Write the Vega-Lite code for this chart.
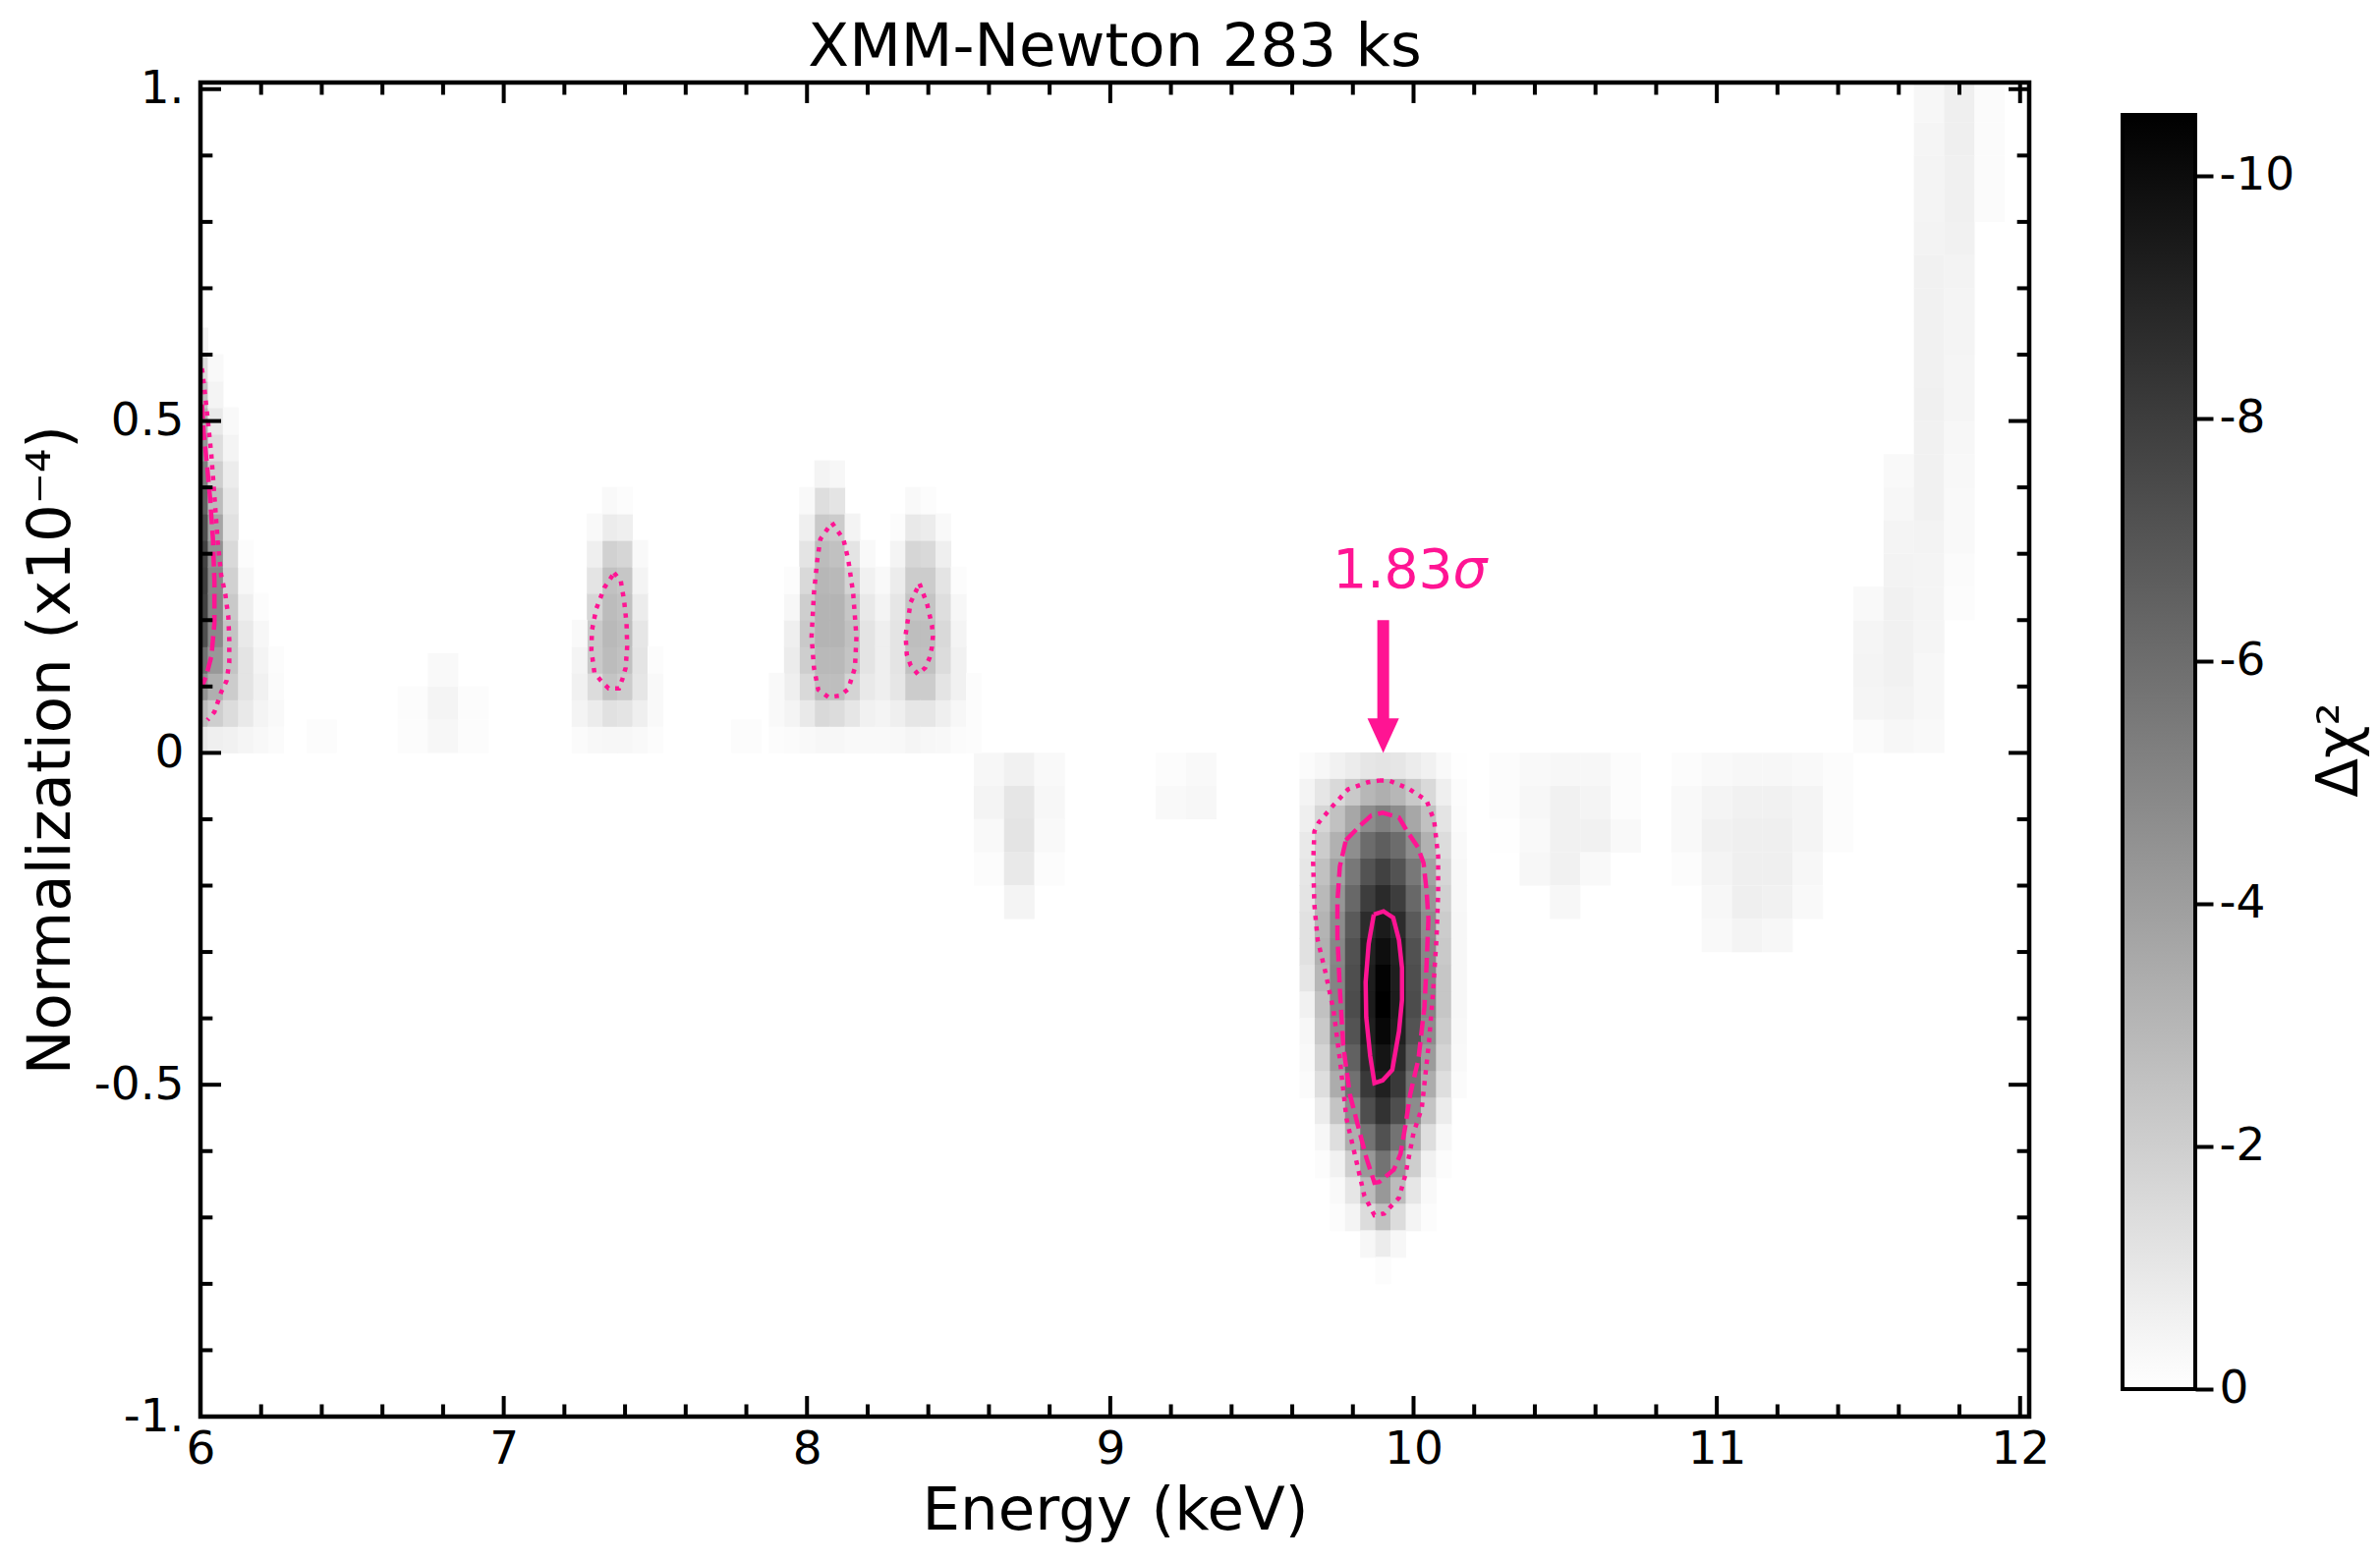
{
"$schema":"https://vega.github.io/schema/vega-lite/v6.json",
"background":"white",
"padding":{"left":21,"top":17,"right":10,"bottom":10},
"spacing":72,
"config":{"font":"DejaVu Sans","view":{"stroke":null},"title":{"fontSize":61,"fontWeight":"normal","color":"black","offset":-13},"axis":{"grid":false,"domain":false,"labelFontSize":47,"titleFontSize":61,"titleFontWeight":"normal","labelColor":"black","titleColor":"black"}},
"datasets":{
"xmaj":[{"e":6},{"e":7},{"e":8},{"e":9},{"e":10},{"e":11},{"e":12}],
"xmin":[{"e":6.2},{"e":6.4},{"e":6.6},{"e":6.8},{"e":7.2},{"e":7.4},{"e":7.6},{"e":7.8},{"e":8.2},{"e":8.4},{"e":8.6},{"e":8.8},{"e":9.2},{"e":9.4},{"e":9.6},{"e":9.8},{"e":10.2},{"e":10.4},{"e":10.6},{"e":10.8},{"e":11.2},{"e":11.4},{"e":11.6},{"e":11.8}],
"ymaj":[{"n":-1},{"n":-0.5},{"n":0},{"n":0.5},{"n":1}],
"ymin":[{"n":-0.9},{"n":-0.8},{"n":-0.7},{"n":-0.6},{"n":-0.4},{"n":-0.3},{"n":-0.2},{"n":-0.1},{"n":0.1},{"n":0.2},{"n":0.3},{"n":0.4},{"n":0.6},{"n":0.7},{"n":0.8},{"n":0.9}],
"coarse":[
{"e":6.4,"n":0.025,"d":0.1},{"e":6.7,"n":0.025,"d":0.1},{"e":6.8,"n":0.025,"d":0.3},{"e":6.9,"n":0.025,"d":0.1},{"e":6.7,"n":0.075,"d":0.1},{"e":6.8,"n":0.075,"d":0.4},{"e":6.9,"n":0.075,"d":0.1},{"e":6.8,"n":0.125,"d":0.2},{"e":7.8,"n":0.025,"d":0.1},
{"e":8.6,"n":-0.025,"d":0.3},{"e":8.7,"n":-0.025,"d":0.5},{"e":8.8,"n":-0.025,"d":0.2},{"e":8.6,"n":-0.075,"d":0.4},{"e":8.7,"n":-0.075,"d":0.9},{"e":8.8,"n":-0.075,"d":0.3},{"e":8.6,"n":-0.125,"d":0.2},{"e":8.7,"n":-0.125,"d":1},{"e":8.8,"n":-0.125,"d":0.2},{"e":8.6,"n":-0.175,"d":0.1},{"e":8.7,"n":-0.175,"d":0.8},{"e":8.8,"n":-0.175,"d":0.1},{"e":8.7,"n":-0.225,"d":0.4},
{"e":9.2,"n":-0.025,"d":0.1},{"e":9.3,"n":-0.025,"d":0.2},{"e":9.2,"n":-0.075,"d":0.2},{"e":9.3,"n":-0.075,"d":0.3},
{"e":10.3,"n":-0.025,"d":0.1},{"e":10.4,"n":-0.025,"d":0.2},{"e":10.5,"n":-0.025,"d":0.3},{"e":10.6,"n":-0.025,"d":0.3},{"e":10.7,"n":-0.025,"d":0.1},{"e":10.3,"n":-0.075,"d":0.1},{"e":10.4,"n":-0.075,"d":0.3},{"e":10.5,"n":-0.075,"d":0.5},{"e":10.6,"n":-0.075,"d":0.4},{"e":10.7,"n":-0.075,"d":0.1},{"e":10.3,"n":-0.125,"d":0.05},{"e":10.4,"n":-0.125,"d":0.2},{"e":10.5,"n":-0.125,"d":0.5},{"e":10.6,"n":-0.125,"d":0.5},{"e":10.7,"n":-0.125,"d":0.2},{"e":10.4,"n":-0.175,"d":0.3},{"e":10.5,"n":-0.175,"d":0.5},{"e":10.6,"n":-0.175,"d":0.2},{"e":10.5,"n":-0.225,"d":0.3},
{"e":10.9,"n":-0.025,"d":0.1},{"e":11,"n":-0.025,"d":0.2},{"e":11.1,"n":-0.025,"d":0.3},{"e":11.2,"n":-0.025,"d":0.3},{"e":11.3,"n":-0.025,"d":0.2},{"e":11.4,"n":-0.025,"d":0.1},{"e":10.9,"n":-0.075,"d":0.2},{"e":11,"n":-0.075,"d":0.4},{"e":11.1,"n":-0.075,"d":0.5},{"e":11.2,"n":-0.075,"d":0.5},{"e":11.3,"n":-0.075,"d":0.4},{"e":11.4,"n":-0.075,"d":0.1},{"e":10.9,"n":-0.125,"d":0.2},{"e":11,"n":-0.125,"d":0.5},{"e":11.1,"n":-0.125,"d":0.6},{"e":11.2,"n":-0.125,"d":0.6},{"e":11.3,"n":-0.125,"d":0.4},{"e":11.4,"n":-0.125,"d":0.1},{"e":10.9,"n":-0.175,"d":0.1},{"e":11,"n":-0.175,"d":0.4},{"e":11.1,"n":-0.175,"d":0.6},{"e":11.2,"n":-0.175,"d":0.6},{"e":11.3,"n":-0.175,"d":0.3},{"e":11,"n":-0.225,"d":0.3},{"e":11.1,"n":-0.225,"d":0.6},{"e":11.2,"n":-0.225,"d":0.5},{"e":11.3,"n":-0.225,"d":0.2},{"e":11,"n":-0.275,"d":0.2},{"e":11.1,"n":-0.275,"d":0.4},{"e":11.2,"n":-0.275,"d":0.3},
{"e":11.5,"n":0.025,"d":0.15},{"e":11.6,"n":0.025,"d":0.3},{"e":11.7,"n":0.025,"d":0.2},{"e":11.5,"n":0.075,"d":0.35},{"e":11.6,"n":0.075,"d":0.45},{"e":11.7,"n":0.075,"d":0.3},{"e":11.5,"n":0.125,"d":0.4},{"e":11.6,"n":0.125,"d":0.5},{"e":11.7,"n":0.125,"d":0.3},{"e":11.5,"n":0.175,"d":0.35},{"e":11.6,"n":0.175,"d":0.5},{"e":11.7,"n":0.175,"d":0.35},{"e":11.5,"n":0.225,"d":0.2},{"e":11.6,"n":0.225,"d":0.5},{"e":11.7,"n":0.225,"d":0.4},{"e":11.8,"n":0.225,"d":0.1},{"e":11.6,"n":0.275,"d":0.45},{"e":11.7,"n":0.275,"d":0.4},{"e":11.8,"n":0.275,"d":0.15},{"e":11.6,"n":0.325,"d":0.4},{"e":11.7,"n":0.325,"d":0.45},{"e":11.8,"n":0.325,"d":0.2},{"e":11.6,"n":0.375,"d":0.3},{"e":11.7,"n":0.375,"d":0.5},{"e":11.8,"n":0.375,"d":0.2},{"e":11.6,"n":0.425,"d":0.2},{"e":11.7,"n":0.425,"d":0.5},{"e":11.8,"n":0.425,"d":0.25},{"e":11.7,"n":0.475,"d":0.5},{"e":11.8,"n":0.475,"d":0.3},{"e":11.7,"n":0.525,"d":0.55},{"e":11.8,"n":0.525,"d":0.35},{"e":11.7,"n":0.575,"d":0.5},{"e":11.8,"n":0.575,"d":0.35},{"e":11.7,"n":0.625,"d":0.5},{"e":11.8,"n":0.625,"d":0.4},{"e":11.7,"n":0.675,"d":0.5},{"e":11.8,"n":0.675,"d":0.4},{"e":11.7,"n":0.725,"d":0.5},{"e":11.8,"n":0.725,"d":0.45},{"e":11.7,"n":0.775,"d":0.45},{"e":11.8,"n":0.775,"d":0.5},{"e":11.7,"n":0.825,"d":0.4},{"e":11.8,"n":0.825,"d":0.55},{"e":11.9,"n":0.825,"d":0.15},{"e":11.7,"n":0.875,"d":0.4},{"e":11.8,"n":0.875,"d":0.55},{"e":11.9,"n":0.875,"d":0.15},{"e":11.7,"n":0.925,"d":0.35},{"e":11.8,"n":0.925,"d":0.6},{"e":11.9,"n":0.925,"d":0.15},{"e":11.7,"n":0.975,"d":0.3},{"e":11.8,"n":0.975,"d":0.6},{"e":11.9,"n":0.975,"d":0.15},{"e":11.7,"n":1.025,"d":0.3},{"e":11.8,"n":1.025,"d":0.6},{"e":11.9,"n":1.025,"d":0.15}
],
"fine":[
{"e":9.65,"n":-0.02,"d":0.15},{"e":9.7,"n":-0.02,"d":0.3},{"e":9.75,"n":-0.02,"d":0.5},{"e":9.8,"n":-0.02,"d":0.7},{"e":9.85,"n":-0.02,"d":0.9},{"e":9.9,"n":-0.02,"d":1},{"e":9.95,"n":-0.02,"d":0.9},{"e":10,"n":-0.02,"d":0.7},{"e":10.05,"n":-0.02,"d":0.5},{"e":10.1,"n":-0.02,"d":0.2},{"e":10.15,"n":-0.02,"d":0.05},
{"e":9.65,"n":-0.06,"d":0.4},{"e":9.7,"n":-0.06,"d":0.9},{"e":9.75,"n":-0.06,"d":1.4},{"e":9.8,"n":-0.06,"d":2},{"e":9.85,"n":-0.06,"d":2.7},{"e":9.9,"n":-0.06,"d":3},{"e":9.95,"n":-0.06,"d":2.7},{"e":10,"n":-0.06,"d":2},{"e":10.05,"n":-0.06,"d":1.4},{"e":10.1,"n":-0.06,"d":0.6},{"e":10.15,"n":-0.06,"d":0.1},
{"e":9.65,"n":-0.1,"d":0.6},{"e":9.7,"n":-0.1,"d":1.5},{"e":9.75,"n":-0.1,"d":2.3},{"e":9.8,"n":-0.1,"d":3.3},{"e":9.85,"n":-0.1,"d":4.4},{"e":9.9,"n":-0.1,"d":4.9},{"e":9.95,"n":-0.1,"d":4.4},{"e":10,"n":-0.1,"d":3.3},{"e":10.05,"n":-0.1,"d":2.3},{"e":10.1,"n":-0.1,"d":1},{"e":10.15,"n":-0.1,"d":0.15},
{"e":9.65,"n":-0.14,"d":0.8},{"e":9.7,"n":-0.14,"d":1.9},{"e":9.75,"n":-0.14,"d":2.9},{"e":9.8,"n":-0.14,"d":4.3},{"e":9.85,"n":-0.14,"d":5.7},{"e":9.9,"n":-0.14,"d":6.3},{"e":9.95,"n":-0.14,"d":5.7},{"e":10,"n":-0.14,"d":4.3},{"e":10.05,"n":-0.14,"d":2.9},{"e":10.1,"n":-0.14,"d":1.3},{"e":10.15,"n":-0.14,"d":0.2},
{"e":9.65,"n":-0.18,"d":0.9},{"e":9.7,"n":-0.18,"d":2.3},{"e":9.75,"n":-0.18,"d":3.5},{"e":9.8,"n":-0.18,"d":5.2},{"e":9.85,"n":-0.18,"d":6.8},{"e":9.9,"n":-0.18,"d":7.6},{"e":9.95,"n":-0.18,"d":6.8},{"e":10,"n":-0.18,"d":5.2},{"e":10.05,"n":-0.18,"d":3.5},{"e":10.1,"n":-0.18,"d":1.5},{"e":10.15,"n":-0.18,"d":0.25},
{"e":9.65,"n":-0.22,"d":1},{"e":9.7,"n":-0.22,"d":2.6},{"e":9.75,"n":-0.22,"d":4},{"e":9.8,"n":-0.22,"d":5.9},{"e":9.85,"n":-0.22,"d":7.8},{"e":9.9,"n":-0.22,"d":8.7},{"e":9.95,"n":-0.22,"d":7.8},{"e":10,"n":-0.22,"d":5.9},{"e":10.05,"n":-0.22,"d":4},{"e":10.1,"n":-0.22,"d":1.7},{"e":10.15,"n":-0.22,"d":0.25},
{"e":9.65,"n":-0.26,"d":1.1},{"e":9.7,"n":-0.26,"d":2.8},{"e":9.75,"n":-0.26,"d":4.4},{"e":9.8,"n":-0.26,"d":6.5},{"e":9.85,"n":-0.26,"d":8.6},{"e":9.9,"n":-0.26,"d":9.5},{"e":9.95,"n":-0.26,"d":8.6},{"e":10,"n":-0.26,"d":6.5},{"e":10.05,"n":-0.26,"d":4.4},{"e":10.1,"n":-0.26,"d":1.9},{"e":10.15,"n":-0.26,"d":0.3},
{"e":9.65,"n":-0.3,"d":1.1},{"e":9.7,"n":-0.3,"d":2.9},{"e":9.75,"n":-0.3,"d":4.6},{"e":9.8,"n":-0.3,"d":6.9},{"e":9.85,"n":-0.3,"d":9.1},{"e":9.9,"n":-0.3,"d":10.1},{"e":9.95,"n":-0.3,"d":9.1},{"e":10,"n":-0.3,"d":6.9},{"e":10.05,"n":-0.3,"d":4.6},{"e":10.1,"n":-0.3,"d":2},{"e":10.15,"n":-0.3,"d":0.3},
{"e":9.65,"n":-0.34,"d":0.9},{"e":9.7,"n":-0.34,"d":2.7},{"e":9.75,"n":-0.34,"d":4.7},{"e":9.8,"n":-0.34,"d":7},{"e":9.85,"n":-0.34,"d":9.3},{"e":9.9,"n":-0.34,"d":10.4},{"e":9.95,"n":-0.34,"d":9.3},{"e":10,"n":-0.34,"d":7},{"e":10.05,"n":-0.34,"d":4.7},{"e":10.1,"n":-0.34,"d":2.1},{"e":10.15,"n":-0.34,"d":0.3},
{"e":9.65,"n":-0.38,"d":0.5},{"e":9.7,"n":-0.38,"d":2.3},{"e":9.75,"n":-0.38,"d":4.7},{"e":9.8,"n":-0.38,"d":7.1},{"e":9.85,"n":-0.38,"d":9.4},{"e":9.9,"n":-0.38,"d":10.5},{"e":9.95,"n":-0.38,"d":9.4},{"e":10,"n":-0.38,"d":7.1},{"e":10.05,"n":-0.38,"d":4.7},{"e":10.1,"n":-0.38,"d":2.1},{"e":10.15,"n":-0.38,"d":0.3},
{"e":9.65,"n":-0.42,"d":0.3},{"e":9.7,"n":-0.42,"d":2},{"e":9.75,"n":-0.42,"d":4.4},{"e":9.8,"n":-0.42,"d":6.8},{"e":9.85,"n":-0.42,"d":9.2},{"e":9.9,"n":-0.42,"d":10.3},{"e":9.95,"n":-0.42,"d":9.2},{"e":10,"n":-0.42,"d":6.8},{"e":10.05,"n":-0.42,"d":4.4},{"e":10.1,"n":-0.42,"d":1.9},{"e":10.15,"n":-0.42,"d":0.25},
{"e":9.65,"n":-0.46,"d":0.2},{"e":9.7,"n":-0.46,"d":1.6},{"e":9.75,"n":-0.46,"d":3.8},{"e":9.8,"n":-0.46,"d":6.2},{"e":9.85,"n":-0.46,"d":8.6},{"e":9.9,"n":-0.46,"d":9.8},{"e":9.95,"n":-0.46,"d":8.6},{"e":10,"n":-0.46,"d":6.2},{"e":10.05,"n":-0.46,"d":3.8},{"e":10.1,"n":-0.46,"d":1.6},{"e":10.15,"n":-0.46,"d":0.2},
{"e":9.65,"n":-0.5,"d":0.15},{"e":9.7,"n":-0.5,"d":1.2},{"e":9.75,"n":-0.5,"d":3.1},{"e":9.8,"n":-0.5,"d":5.5},{"e":9.85,"n":-0.5,"d":8},{"e":9.9,"n":-0.5,"d":9.2},{"e":9.95,"n":-0.5,"d":8},{"e":10,"n":-0.5,"d":5.5},{"e":10.05,"n":-0.5,"d":3.1},{"e":10.1,"n":-0.5,"d":1.2},{"e":10.15,"n":-0.5,"d":0.15},
{"e":9.7,"n":-0.54,"d":0.7},{"e":9.75,"n":-0.54,"d":2.2},{"e":9.8,"n":-0.54,"d":4.4},{"e":9.85,"n":-0.54,"d":7},{"e":9.9,"n":-0.54,"d":8.3},{"e":9.95,"n":-0.54,"d":7},{"e":10,"n":-0.54,"d":4.4},{"e":10.05,"n":-0.54,"d":2.2},{"e":10.1,"n":-0.54,"d":0.7},
{"e":9.7,"n":-0.58,"d":0.3},{"e":9.75,"n":-0.58,"d":1.2},{"e":9.8,"n":-0.58,"d":3},{"e":9.85,"n":-0.58,"d":5.4},{"e":9.9,"n":-0.58,"d":6.9},{"e":9.95,"n":-0.58,"d":5.4},{"e":10,"n":-0.58,"d":3},{"e":10.05,"n":-0.58,"d":1.2},{"e":10.1,"n":-0.58,"d":0.3},
{"e":9.7,"n":-0.62,"d":0.1},{"e":9.75,"n":-0.62,"d":0.5},{"e":9.8,"n":-0.62,"d":1.8},{"e":9.85,"n":-0.62,"d":3.9},{"e":9.9,"n":-0.62,"d":5.4},{"e":9.95,"n":-0.62,"d":3.9},{"e":10,"n":-0.62,"d":1.8},{"e":10.05,"n":-0.62,"d":0.5},{"e":10.1,"n":-0.62,"d":0.1},
{"e":9.75,"n":-0.66,"d":0.2},{"e":9.8,"n":-0.66,"d":0.9},{"e":9.85,"n":-0.66,"d":2.5},{"e":9.9,"n":-0.66,"d":3.9},{"e":9.95,"n":-0.66,"d":2.5},{"e":10,"n":-0.66,"d":0.9},{"e":10.05,"n":-0.66,"d":0.2},
{"e":9.75,"n":-0.7,"d":0.1},{"e":9.8,"n":-0.7,"d":0.4},{"e":9.85,"n":-0.7,"d":1.3},{"e":9.9,"n":-0.7,"d":2.3},{"e":9.95,"n":-0.7,"d":1.3},{"e":10,"n":-0.7,"d":0.4},{"e":10.05,"n":-0.7,"d":0.1},
{"e":9.85,"n":-0.74,"d":0.3},{"e":9.9,"n":-0.74,"d":0.7},{"e":9.95,"n":-0.74,"d":0.3},{"e":9.9,"n":-0.78,"d":0.1},
{"e":6,"n":0.02,"d":0.8},{"e":6,"n":0.06,"d":2.5},{"e":6,"n":0.1,"d":4.2},{"e":6,"n":0.14,"d":5.6},{"e":6,"n":0.18,"d":7},{"e":6,"n":0.22,"d":7.6},{"e":6,"n":0.26,"d":7.8},{"e":6,"n":0.3,"d":7.6},{"e":6,"n":0.34,"d":7},{"e":6,"n":0.38,"d":6.2},{"e":6,"n":0.42,"d":5},{"e":6,"n":0.46,"d":4},{"e":6,"n":0.5,"d":3},{"e":6,"n":0.54,"d":2.3},{"e":6,"n":0.58,"d":1.3},{"e":6,"n":0.62,"d":0.4},
{"e":6.05,"n":0.02,"d":0.6},{"e":6.05,"n":0.06,"d":1.8},{"e":6.05,"n":0.1,"d":3},{"e":6.05,"n":0.14,"d":3.9},{"e":6.05,"n":0.18,"d":4.5},{"e":6.05,"n":0.22,"d":4.6},{"e":6.05,"n":0.26,"d":4.5},{"e":6.05,"n":0.3,"d":4.2},{"e":6.05,"n":0.34,"d":3.4},{"e":6.05,"n":0.38,"d":2.5},{"e":6.05,"n":0.42,"d":1.8},{"e":6.05,"n":0.46,"d":1.2},{"e":6.05,"n":0.5,"d":0.8},{"e":6.05,"n":0.54,"d":0.4},{"e":6.05,"n":0.58,"d":0.2},
{"e":6.1,"n":0.02,"d":0.5},{"e":6.1,"n":0.06,"d":1.3},{"e":6.1,"n":0.1,"d":1.9},{"e":6.1,"n":0.14,"d":2.2},{"e":6.1,"n":0.18,"d":2.2},{"e":6.1,"n":0.22,"d":2},{"e":6.1,"n":0.26,"d":1.7},{"e":6.1,"n":0.3,"d":1.4},{"e":6.1,"n":0.34,"d":1.1},{"e":6.1,"n":0.38,"d":0.9},{"e":6.1,"n":0.42,"d":0.7},{"e":6.1,"n":0.46,"d":0.4},{"e":6.1,"n":0.5,"d":0.2},
{"e":6.15,"n":0.02,"d":0.35},{"e":6.15,"n":0.06,"d":0.8},{"e":6.15,"n":0.1,"d":1},{"e":6.15,"n":0.14,"d":1},{"e":6.15,"n":0.18,"d":0.8},{"e":6.15,"n":0.22,"d":0.6},{"e":6.15,"n":0.26,"d":0.3},{"e":6.15,"n":0.3,"d":0.1},
{"e":6.2,"n":0.02,"d":0.25},{"e":6.2,"n":0.06,"d":0.4},{"e":6.2,"n":0.1,"d":0.5},{"e":6.2,"n":0.14,"d":0.4},{"e":6.2,"n":0.18,"d":0.3},{"e":6.2,"n":0.22,"d":0.1},{"e":6.25,"n":0.02,"d":0.15},{"e":6.25,"n":0.06,"d":0.2},{"e":6.25,"n":0.1,"d":0.15},{"e":6.25,"n":0.14,"d":0.1},
{"e":7.35,"n":0.02,"d":0.3},{"e":7.35,"n":0.06,"d":1.1},{"e":7.35,"n":0.1,"d":2.2},{"e":7.35,"n":0.14,"d":2.5},{"e":7.35,"n":0.18,"d":2.6},{"e":7.35,"n":0.22,"d":2.5},{"e":7.35,"n":0.26,"d":2.3},{"e":7.35,"n":0.3,"d":1.7},{"e":7.35,"n":0.34,"d":0.7},{"e":7.35,"n":0.38,"d":0.2},
{"e":7.4,"n":0.02,"d":0.3},{"e":7.4,"n":0.06,"d":1},{"e":7.4,"n":0.1,"d":1.9},{"e":7.4,"n":0.14,"d":2.3},{"e":7.4,"n":0.18,"d":2.4},{"e":7.4,"n":0.22,"d":2.3},{"e":7.4,"n":0.26,"d":2.1},{"e":7.4,"n":0.3,"d":1.5},{"e":7.4,"n":0.34,"d":0.6},{"e":7.4,"n":0.38,"d":0.1},
{"e":7.3,"n":0.02,"d":0.25},{"e":7.3,"n":0.06,"d":0.7},{"e":7.3,"n":0.1,"d":1.3},{"e":7.3,"n":0.14,"d":2},{"e":7.3,"n":0.18,"d":2},{"e":7.3,"n":0.22,"d":1.5},{"e":7.3,"n":0.26,"d":1},{"e":7.3,"n":0.3,"d":0.6},{"e":7.3,"n":0.34,"d":0.2},
{"e":7.45,"n":0.02,"d":0.2},{"e":7.45,"n":0.06,"d":0.6},{"e":7.45,"n":0.1,"d":0.9},{"e":7.45,"n":0.14,"d":1},{"e":7.45,"n":0.18,"d":0.9},{"e":7.45,"n":0.22,"d":0.7},{"e":7.45,"n":0.26,"d":0.4},{"e":7.45,"n":0.3,"d":0.2},
{"e":7.25,"n":0.02,"d":0.15},{"e":7.25,"n":0.06,"d":0.4},{"e":7.25,"n":0.1,"d":0.5},{"e":7.25,"n":0.14,"d":0.4},{"e":7.25,"n":0.18,"d":0.2},{"e":7.5,"n":0.02,"d":0.1},{"e":7.5,"n":0.06,"d":0.2},{"e":7.5,"n":0.1,"d":0.2},{"e":7.5,"n":0.14,"d":0.1},
{"e":8.05,"n":0.02,"d":0.3},{"e":8.05,"n":0.06,"d":1.4},{"e":8.05,"n":0.1,"d":2.4},{"e":8.05,"n":0.14,"d":2.6},{"e":8.05,"n":0.18,"d":2.8},{"e":8.05,"n":0.22,"d":2.8},{"e":8.05,"n":0.26,"d":2.7},{"e":8.05,"n":0.3,"d":2.5},{"e":8.05,"n":0.34,"d":2},{"e":8.05,"n":0.38,"d":1.2},{"e":8.05,"n":0.42,"d":0.4},
{"e":8.1,"n":0.02,"d":0.3},{"e":8.1,"n":0.06,"d":1.3},{"e":8.1,"n":0.1,"d":2.4},{"e":8.1,"n":0.14,"d":2.6},{"e":8.1,"n":0.18,"d":2.8},{"e":8.1,"n":0.22,"d":2.8},{"e":8.1,"n":0.26,"d":2.6},{"e":8.1,"n":0.3,"d":2.3},{"e":8.1,"n":0.34,"d":1.9},{"e":8.1,"n":0.38,"d":1},{"e":8.1,"n":0.42,"d":0.3},
{"e":8,"n":0.02,"d":0.2},{"e":8,"n":0.06,"d":0.8},{"e":8,"n":0.1,"d":1.4},{"e":8,"n":0.14,"d":1.8},{"e":8,"n":0.18,"d":2},{"e":8,"n":0.22,"d":1.8},{"e":8,"n":0.26,"d":1.4},{"e":8,"n":0.3,"d":1},{"e":8,"n":0.34,"d":0.6},{"e":8,"n":0.38,"d":0.2},
{"e":8.15,"n":0.02,"d":0.2},{"e":8.15,"n":0.06,"d":0.9},{"e":8.15,"n":0.1,"d":1.6},{"e":8.15,"n":0.14,"d":2.2},{"e":8.15,"n":0.18,"d":2.3},{"e":8.15,"n":0.22,"d":2.1},{"e":8.15,"n":0.26,"d":1.6},{"e":8.15,"n":0.3,"d":1},{"e":8.15,"n":0.34,"d":0.4},
{"e":7.95,"n":0.02,"d":0.15},{"e":7.95,"n":0.06,"d":0.4},{"e":7.95,"n":0.1,"d":0.6},{"e":7.95,"n":0.14,"d":0.7},{"e":7.95,"n":0.18,"d":0.6},{"e":7.95,"n":0.22,"d":0.3},{"e":7.95,"n":0.26,"d":0.1},
{"e":8.2,"n":0.02,"d":0.2},{"e":8.2,"n":0.06,"d":0.5},{"e":8.2,"n":0.1,"d":0.8},{"e":8.2,"n":0.14,"d":1},{"e":8.2,"n":0.18,"d":1},{"e":8.2,"n":0.22,"d":0.8},{"e":8.2,"n":0.26,"d":0.5},{"e":8.2,"n":0.3,"d":0.2},
{"e":7.9,"n":0.02,"d":0.1},{"e":7.9,"n":0.06,"d":0.2},{"e":7.9,"n":0.1,"d":0.2},
{"e":8.25,"n":0.02,"d":0.2},{"e":8.25,"n":0.06,"d":0.4},{"e":8.25,"n":0.1,"d":0.6},{"e":8.25,"n":0.14,"d":0.6},{"e":8.25,"n":0.18,"d":0.6},{"e":8.25,"n":0.22,"d":0.4},{"e":8.25,"n":0.26,"d":0.2},
{"e":8.3,"n":0.02,"d":0.25},{"e":8.3,"n":0.06,"d":0.6},{"e":8.3,"n":0.1,"d":0.9},{"e":8.3,"n":0.14,"d":1},{"e":8.3,"n":0.18,"d":1},{"e":8.3,"n":0.22,"d":0.9},{"e":8.3,"n":0.26,"d":0.7},{"e":8.3,"n":0.3,"d":0.4},{"e":8.3,"n":0.34,"d":0.1},
{"e":8.35,"n":0.02,"d":0.35},{"e":8.35,"n":0.06,"d":0.9},{"e":8.35,"n":0.1,"d":1.9},{"e":8.35,"n":0.14,"d":2.3},{"e":8.35,"n":0.18,"d":2.4},{"e":8.35,"n":0.22,"d":2.2},{"e":8.35,"n":0.26,"d":1.9},{"e":8.35,"n":0.3,"d":1.5},{"e":8.35,"n":0.34,"d":0.8},{"e":8.35,"n":0.38,"d":0.2},
{"e":8.4,"n":0.02,"d":0.3},{"e":8.4,"n":0.06,"d":0.9},{"e":8.4,"n":0.1,"d":1.9},{"e":8.4,"n":0.14,"d":2.3},{"e":8.4,"n":0.18,"d":2.4},{"e":8.4,"n":0.22,"d":2.2},{"e":8.4,"n":0.26,"d":1.9},{"e":8.4,"n":0.3,"d":1.4},{"e":8.4,"n":0.34,"d":0.7},{"e":8.4,"n":0.38,"d":0.1},
{"e":8.45,"n":0.02,"d":0.25},{"e":8.45,"n":0.06,"d":0.6},{"e":8.45,"n":0.1,"d":1},{"e":8.45,"n":0.14,"d":1.3},{"e":8.45,"n":0.18,"d":1.4},{"e":8.45,"n":0.22,"d":1.2},{"e":8.45,"n":0.26,"d":1},{"e":8.45,"n":0.3,"d":0.6},{"e":8.45,"n":0.34,"d":0.2},
{"e":8.5,"n":0.02,"d":0.15},{"e":8.5,"n":0.06,"d":0.3},{"e":8.5,"n":0.1,"d":0.5},{"e":8.5,"n":0.14,"d":0.5},{"e":8.5,"n":0.18,"d":0.4},{"e":8.5,"n":0.22,"d":0.3},{"e":8.5,"n":0.26,"d":0.1},{"e":8.55,"n":0.02,"d":0.1},{"e":8.55,"n":0.06,"d":0.1},{"e":8.55,"n":0.1,"d":0.1}
],
"solid":[{"e":9.869,"n":-0.2435},{"e":9.901,"n":-0.2387},{"e":9.933,"n":-0.2482},{"e":9.952,"n":-0.282},{"e":9.962,"n":-0.3243},{"e":9.962,"n":-0.372},{"e":9.952,"n":-0.4194},{"e":9.93,"n":-0.4775},{"e":9.898,"n":-0.4934},{"e":9.871,"n":-0.4976},{"e":9.857,"n":-0.4564},{"e":9.844,"n":-0.3983},{"e":9.842,"n":-0.3454},{"e":9.852,"n":-0.2873},{"e":9.869,"n":-0.2435}],
"dashed":[{"c":"a","e":9.777,"n":-0.1315},{"c":"a","e":9.822,"n":-0.1104},{"c":"a","e":9.86,"n":-0.0945},{"c":"a","e":9.898,"n":-0.0903},{"c":"a","e":9.952,"n":-0.0972},{"c":"a","e":9.979,"n":-0.1183},{"c":"a","e":10.014,"n":-0.142},{"c":"a","e":10.033,"n":-0.1658},{"c":"a","e":10.043,"n":-0.2081},{"c":"a","e":10.049,"n":-0.2504},{"c":"a","e":10.043,"n":-0.319},{"c":"a","e":10.036,"n":-0.3824},{"c":"a","e":10.016,"n":-0.4617},{"c":"a","e":9.989,"n":-0.5145},{"c":"a","e":9.973,"n":-0.562},{"c":"a","e":9.957,"n":-0.6043},{"c":"a","e":9.935,"n":-0.628},{"c":"a","e":9.887,"n":-0.6465},{"c":"a","e":9.871,"n":-0.6476},{"c":"a","e":9.844,"n":-0.6096},{"c":"a","e":9.817,"n":-0.562},{"c":"a","e":9.79,"n":-0.5145},{"c":"a","e":9.768,"n":-0.4405},{"c":"a","e":9.757,"n":-0.356},{"c":"a","e":9.749,"n":-0.2768},{"c":"a","e":9.749,"n":-0.2239},{"c":"a","e":9.757,"n":-0.1711},{"c":"a","e":9.777,"n":-0.1315},
{"c":"b","e":6.005,"n":0.5252},{"c":"b","e":6.011,"n":0.4808},{"c":"b","e":6.022,"n":0.4315},{"c":"b","e":6.032,"n":0.3822},{"c":"b","e":6.041,"n":0.323},{"c":"b","e":6.046,"n":0.2589},{"c":"b","e":6.046,"n":0.1948},{"c":"b","e":6.036,"n":0.1455},{"c":"b","e":6.019,"n":0.1159},{"c":"b","e":6.006,"n":0.1011}],
"dotted":[{"c":"a","e":9.887,"n":-0.0417},{"c":"a","e":9.919,"n":-0.0417},{"c":"a","e":9.984,"n":-0.0538},{"c":"a","e":10.043,"n":-0.0718},{"c":"a","e":10.068,"n":-0.1024},{"c":"a","e":10.081,"n":-0.1553},{"c":"a","e":10.081,"n":-0.2134},{"c":"a","e":10.076,"n":-0.2768},{"c":"a","e":10.065,"n":-0.356},{"c":"a","e":10.051,"n":-0.4352},{"c":"a","e":10.027,"n":-0.5356},{"c":"a","e":10,"n":-0.5726},{"c":"a","e":9.973,"n":-0.636},{"c":"a","e":9.952,"n":-0.6703},{"c":"a","e":9.903,"n":-0.6941},{"c":"a","e":9.871,"n":-0.6967},{"c":"a","e":9.838,"n":-0.6677},{"c":"a","e":9.806,"n":-0.6043},{"c":"a","e":9.779,"n":-0.5515},{"c":"a","e":9.757,"n":-0.4617},{"c":"a","e":9.736,"n":-0.3877},{"c":"a","e":9.709,"n":-0.3296},{"c":"a","e":9.684,"n":-0.2821},{"c":"a","e":9.673,"n":-0.2292},{"c":"a","e":9.669,"n":-0.1658},{"c":"a","e":9.673,"n":-0.1183},{"c":"a","e":9.687,"n":-0.1051},{"c":"a","e":9.736,"n":-0.0787},{"c":"a","e":9.784,"n":-0.0549},{"c":"a","e":9.849,"n":-0.0443},{"c":"a","e":9.887,"n":-0.0417},
{"c":"b","e":6.005,"n":0.5794},{"c":"b","e":6.014,"n":0.5449},{"c":"b","e":6.025,"n":0.498},{"c":"b","e":6.036,"n":0.4487},{"c":"b","e":6.046,"n":0.3871},{"c":"b","e":6.057,"n":0.318},{"c":"b","e":6.068,"n":0.2687},{"c":"b","e":6.082,"n":0.2391},{"c":"b","e":6.092,"n":0.2046},{"c":"b","e":6.095,"n":0.1701},{"c":"b","e":6.095,"n":0.1356},{"c":"b","e":6.086,"n":0.1085},{"c":"b","e":6.068,"n":0.0912},{"c":"b","e":6.046,"n":0.0616},{"c":"b","e":6.023,"n":0.0493},
{"c":"c","e":7.364,"n":0.2712},{"c":"c","e":7.386,"n":0.2589},{"c":"c","e":7.397,"n":0.2293},{"c":"c","e":7.405,"n":0.1948},{"c":"c","e":7.407,"n":0.1603},{"c":"c","e":7.402,"n":0.1282},{"c":"c","e":7.391,"n":0.1109},{"c":"c","e":7.38,"n":0.0971},{"c":"c","e":7.346,"n":0.0971},{"c":"c","e":7.321,"n":0.1085},{"c":"c","e":7.299,"n":0.1208},{"c":"c","e":7.289,"n":0.1553},{"c":"c","e":7.291,"n":0.1849},{"c":"c","e":7.305,"n":0.217},{"c":"c","e":7.332,"n":0.249},{"c":"c","e":7.364,"n":0.2712},
{"c":"d","e":8.082,"n":0.3467},{"c":"d","e":8.12,"n":0.322},{"c":"d","e":8.136,"n":0.291},{"c":"d","e":8.152,"n":0.2416},{"c":"d","e":8.163,"n":0.1751},{"c":"d","e":8.158,"n":0.1282},{"c":"d","e":8.136,"n":0.0962},{"c":"d","e":8.109,"n":0.0863},{"c":"d","e":8.071,"n":0.0839},{"c":"d","e":8.037,"n":0.0952},{"c":"d","e":8.023,"n":0.1282},{"c":"d","e":8.015,"n":0.1751},{"c":"d","e":8.023,"n":0.2416},{"c":"d","e":8.034,"n":0.291},{"c":"d","e":8.044,"n":0.322},{"c":"d","e":8.082,"n":0.3467},
{"c":"e","e":8.371,"n":0.255},{"c":"e","e":8.396,"n":0.2244},{"c":"e","e":8.412,"n":0.1923},{"c":"e","e":8.415,"n":0.1751},{"c":"e","e":8.412,"n":0.1593},{"c":"e","e":8.404,"n":0.143},{"c":"e","e":8.39,"n":0.1282},{"c":"e","e":8.366,"n":0.1184},{"c":"e","e":8.342,"n":0.1317},{"c":"e","e":8.329,"n":0.148},{"c":"e","e":8.325,"n":0.1775},{"c":"e","e":8.331,"n":0.1958},{"c":"e","e":8.342,"n":0.2269},{"c":"e","e":8.358,"n":0.2426},{"c":"e","e":8.371,"n":0.255}]
},
"hconcat":[
{"width":1861,"height":1358,
"title":"XMM-Newton 283 ks",
"layer":[
{"encoding":{
"x":{"field":"e","type":"quantitative","scale":{"domain":[6,12.03],"nice":false,"zero":false},"axis":{"title":"Energy (keV)","values":[6,7,8,9,10,11,12],"format":"d","ticks":false,"labelPadding":10,"titlePadding":10,"labelFlush":false,"labelOverlap":false}},
"y":{"field":"n","type":"quantitative","scale":{"domain":[-1,1.01],"nice":false,"zero":false},"axis":{"title":"Normalization (x10⁻⁴)","values":[-1,-0.5,0,0.5,1],"labelExpr":"datum.value==1?'1.':datum.value==-1?'-1.':datum.value==0.5?'0.5':datum.value==-0.5?'-0.5':'0'","ticks":false,"labelPadding":17,"titlePadding":12,"labelFlush":false,"labelOverlap":false}}
},
"layer":[
{"data":{"name":"coarse"},"mark":{"type":"rect","width":31,"height":34,"clip":true},"encoding":{"color":{"field":"d","type":"quantitative","scale":{"domain":[0,10.5],"range":["#ffffff","#000000"]},"legend":null}}},
{"data":{"name":"fine"},"mark":{"type":"rect","width":16,"height":28,"clip":true},"encoding":{"color":{"field":"d","type":"quantitative","legend":null}}},
{"data":{"name":"dotted"},"transform":[{"window":[{"op":"row_number","as":"i"}]}],"mark":{"type":"line","stroke":"#ff1493","strokeWidth":4.5,"strokeDash":[4.5,6.5],"clip":true},"encoding":{"detail":{"field":"c"},"order":{"field":"i","type":"quantitative"}}},
{"data":{"name":"dashed"},"transform":[{"window":[{"op":"row_number","as":"i"}]}],"mark":{"type":"line","stroke":"#ff1493","strokeWidth":4.5,"strokeDash":[15,6.5],"clip":true},"encoding":{"detail":{"field":"c"},"order":{"field":"i","type":"quantitative"}}},
{"data":{"name":"solid"},"transform":[{"window":[{"op":"row_number","as":"i"}]}],"mark":{"type":"line","stroke":"#ff1493","strokeWidth":4.5},"encoding":{"order":{"field":"i","type":"quantitative"}}},
{"data":{"values":[{"e":9.9,"n":0.2,"m":0.05}]},"mark":{"type":"rule","stroke":"#ff1493","strokeWidth":12},"encoding":{"y2":{"field":"m"}}},
{"data":{"values":[{"e":9.848,"n":0.052,"m":0.052},{"e":9.9,"n":0,"m":0.052},{"e":9.952,"n":0.052,"m":0.052}]},"mark":{"type":"area","fill":"#ff1493"},"encoding":{"y2":{"field":"m"}}},
{"data":{"values":[{"e":10.13,"n":0.274,"t":"1.83"}]},"mark":{"type":"text","color":"#ff1493","fontSize":55,"align":"right","baseline":"middle"},"encoding":{"text":{"field":"t"}}},
{"data":{"values":[{"e":10.13,"n":0.274,"t":"σ"}]},"mark":{"type":"text","color":"#ff1493","fontSize":55,"fontStyle":"italic","align":"left","baseline":"middle"},"encoding":{"text":{"field":"t"}}},
{"data":{"values":[{"e":6,"f":12.03,"n":-1,"m":1.01}]},"mark":{"type":"rect","fill":null,"stroke":"black","strokeWidth":4.5},"encoding":{"x2":{"field":"f"},"y2":{"field":"m"}}}
]},
{"data":{"name":"xmaj"},"mark":{"type":"rule","stroke":"black","strokeWidth":4},"encoding":{"x":{"field":"e","type":"quantitative"},"y":{"datum":-1,"type":"quantitative"},"y2":{"datum":-0.969}}},
{"data":{"name":"xmaj"},"mark":{"type":"rule","stroke":"black","strokeWidth":4},"encoding":{"x":{"field":"e","type":"quantitative"},"y":{"datum":1.01,"type":"quantitative"},"y2":{"datum":0.979}}},
{"data":{"name":"xmin"},"mark":{"type":"rule","stroke":"black","strokeWidth":4},"encoding":{"x":{"field":"e","type":"quantitative"},"y":{"datum":-1,"type":"quantitative"},"y2":{"datum":-0.9815}}},
{"data":{"name":"xmin"},"mark":{"type":"rule","stroke":"black","strokeWidth":4},"encoding":{"x":{"field":"e","type":"quantitative"},"y":{"datum":1.01,"type":"quantitative"},"y2":{"datum":0.9915}}},
{"data":{"name":"ymaj"},"mark":{"type":"rule","stroke":"black","strokeWidth":4},"encoding":{"y":{"field":"n","type":"quantitative"},"x":{"datum":6,"type":"quantitative"},"x2":{"datum":6.068}}},
{"data":{"name":"ymaj"},"mark":{"type":"rule","stroke":"black","strokeWidth":4},"encoding":{"y":{"field":"n","type":"quantitative"},"x":{"datum":12.03,"type":"quantitative"},"x2":{"datum":11.962}}},
{"data":{"name":"ymin"},"mark":{"type":"rule","stroke":"black","strokeWidth":4},"encoding":{"y":{"field":"n","type":"quantitative"},"x":{"datum":6,"type":"quantitative"},"x2":{"datum":6.04}}},
{"data":{"name":"ymin"},"mark":{"type":"rule","stroke":"black","strokeWidth":4},"encoding":{"y":{"field":"n","type":"quantitative"},"x":{"datum":12.03,"type":"quantitative"},"x2":{"datum":11.99}}}
]},
{"width":74,"height":1358,
"data":{"values":[{"a":0,"b":1,"lo":0,"hi":10.5}]},
"mark":{"type":"rect","stroke":"black","strokeWidth":4,"fill":{"gradient":"linear","x1":0,"y1":1,"x2":0,"y2":0,"stops":[{"offset":0,"color":"#ffffff"},{"offset":1,"color":"#000000"}]}},
"encoding":{
"x":{"field":"a","type":"quantitative","scale":{"domain":[0,1],"nice":false,"zero":false},"axis":null},
"x2":{"field":"b"},
"y":{"field":"lo","type":"quantitative","scale":{"domain":[-0.2267,10.767],"nice":false,"zero":false},"axis":{"orient":"right","title":"Δχ²","titleAngle":270,"titleFontSize":58,"values":[0,2,4,6,8,10],"labelExpr":"datum.value==0?'0':'-'+datum.value","tickSize":18,"tickWidth":4,"tickColor":"black","labelPadding":6,"titlePadding":76}},
"y2":{"field":"hi"}
}}
]
}
